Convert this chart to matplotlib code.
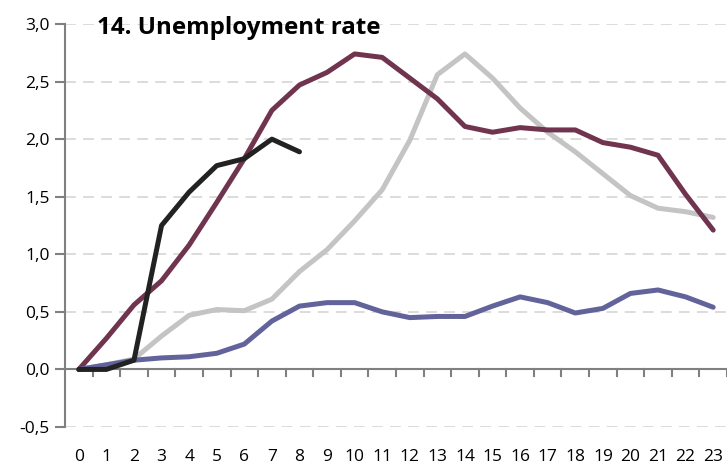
import numpy as np
import matplotlib.pyplot as plt

plt.rcParams['font.family'] = ['Open Sans', 'DejaVu Sans']

# horizon (quarters) and the four episodes
quarters = list(range(24))
grey_line = [0.0, 0.04, 0.09, 0.29, 0.47, 0.52, 0.51, 0.61, 0.85, 1.04, 1.29, 1.56,
             1.99, 2.56, 2.74, 2.53, 2.27, 2.06, 1.89, 1.70, 1.51, 1.40, 1.37, 1.32]
maroon_line = [0.0, 0.27, 0.56, 0.77, 1.08, 1.45, 1.83, 2.25, 2.47, 2.58, 2.74, 2.71,
               2.53, 2.35, 2.11, 2.06, 2.10, 2.08, 2.08, 1.97, 1.93, 1.86, 1.52, 1.21]
blue_line = [0.0, 0.04, 0.08, 0.10, 0.11, 0.14, 0.22, 0.42, 0.55, 0.58, 0.58, 0.50,
             0.45, 0.46, 0.46, 0.55, 0.63, 0.58, 0.49, 0.53, 0.66, 0.69, 0.63, 0.54]
black_line = [0.0, 0.0, 0.08, 1.25, 1.54, 1.77, 1.83, 2.00, 1.89]

y_ticks = [-0.5, 0.0, 0.5, 1.0, 1.5, 2.0, 2.5, 3.0]

fig = plt.figure(figsize=(7.28, 4.66), dpi=100)
ax = fig.add_axes([0.0893, 0.0837, 0.9093, 0.8648])

# dashed grid
for y in y_ticks:
    if y != 0:
        ax.axhline(y, color='#D9D9D9', lw=1.3, ls=(0, (6, 4)), zorder=0)

# zero line with category tick marks
ax.axhline(0, color='#808080', lw=1.5, zorder=1)
for xt in np.arange(0.5, 24, 1.0):
    ax.plot([xt, xt], [0, -0.06], color='#808080', lw=1.5, zorder=1)

ax.plot(quarters, grey_line, color='#C4C4C4', lw=3.6, solid_capstyle='round', zorder=2)
ax.plot(quarters, maroon_line, color='#70344F', lw=3.6, solid_capstyle='round', zorder=3)
ax.plot(quarters, blue_line, color='#62639B', lw=3.6, solid_capstyle='round', zorder=4)
ax.plot(quarters[:len(black_line)], black_line, color='#222222', lw=3.6,
        solid_capstyle='round', zorder=5)

ax.set_xlim(-0.5, 23.5)
ax.set_ylim(-0.5, 3.0)
ax.set_yticks(y_ticks)
ax.set_yticklabels([f'{v:.1f}'.replace('.', ',') for v in y_ticks], fontsize=12.5)
ax.set_xticks(quarters)
ax.set_xticklabels([str(q) for q in quarters], fontsize=12.5)
ax.tick_params(axis='x', length=0, pad=16)
ax.tick_params(axis='y', length=7, width=1.5, color='#808080', pad=4)

for s in ['top', 'right', 'bottom']:
    ax.spines[s].set_visible(False)
ax.spines['left'].set_color('#808080')
ax.spines['left'].set_linewidth(1.5)

ax.text(0.049, 0.99, '14. Unemployment rate', transform=ax.transAxes, fontsize=17.4,
        fontweight='bold', va='center', ha='left')

fig.savefig('out.png', dpi=100)
